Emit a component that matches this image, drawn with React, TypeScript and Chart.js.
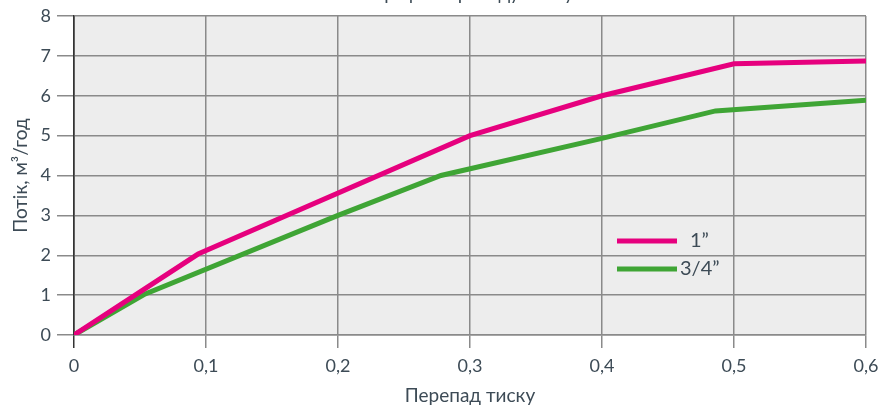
import React, { useEffect, useRef } from "react";
import { Chart, registerables } from "chart.js";

Chart.register(...registerables);

const chartTitle = "Графік перепаду тиску";
const xAxisTitle = "Перепад тиску";
const yAxisTitle = "Потік, м³/год";
const xTickLabels = ["0", "0,1", "0,2", "0,3", "0,4", "0,5", "0,6"];
const yTickLabels = ["0", "1", "2", "3", "4", "5", "6", "7", "8"];

const seriesLabels = ["1”", "3/4”"];
const pressure1 = [0, 0.094, 0.3, 0.4, 0.5, 0.6];
const flow1 = [0, 2.03, 5.0, 6.0, 6.8, 6.87];
const pressure34 = [0, 0.054, 0.2, 0.278, 0.4, 0.486, 0.6];
const flow34 = [0, 1.03, 3.0, 4.0, 4.93, 5.62, 5.89];

const PINK = "#e6007e";
const GREEN = "#3fa535";
const TEXT = "#3d4b56";
const GRID = "#8a8a8a";
const FONT = "Lato, 'Open Sans', sans-serif";

const extrasPlugin = {
  id: "extras",
  beforeDraw(chart: any) {
    const { ctx, chartArea } = chart;
    ctx.save();
    ctx.fillStyle = "#ededed";
    ctx.fillRect(chartArea.left, chartArea.top, chartArea.right - chartArea.left, chartArea.bottom - chartArea.top);
    ctx.restore();
  },
  afterDraw(chart: any) {
    const { ctx } = chart;
    ctx.save();
    ctx.fillStyle = TEXT;
    ctx.font = `19px ${FONT}`;
    ctx.textAlign = "center";
    ctx.textBaseline = "alphabetic";
    ctx.fillText(chartTitle, 475, 0);
    const ds = chart.data.datasets;
    const rows = [
      { y: 241, tx: 690 },
      { y: 269, tx: 680 },
    ];
    ds.forEach((d: any, i: number) => {
      const r = rows[i];
      ctx.strokeStyle = d.borderColor;
      ctx.lineWidth = 5;
      ctx.beginPath();
      ctx.moveTo(617, r.y);
      ctx.lineTo(677, r.y);
      ctx.stroke();
      ctx.fillStyle = TEXT;
      ctx.font = `20px ${FONT}`;
      ctx.textAlign = "left";
      ctx.textBaseline = "middle";
      ctx.fillText(d.label, r.tx, r.y);
    });
    ctx.restore();
  },
};

export default function App() {
  const ref = useRef<HTMLCanvasElement | null>(null);
  useEffect(() => {
    if (!ref.current) return;
    const chart = new Chart(ref.current, {
      type: "line",
      data: {
        datasets: [
          {
            label: seriesLabels[0],
            data: pressure1.map((x, i) => ({ x, y: flow1[i] })),
            borderColor: PINK,
            backgroundColor: PINK,
            borderWidth: 5,
            pointRadius: 0,
            tension: 0,
          },
          {
            label: seriesLabels[1],
            data: pressure34.map((x, i) => ({ x, y: flow34[i] })),
            borderColor: GREEN,
            backgroundColor: GREEN,
            borderWidth: 5,
            pointRadius: 0,
            tension: 0,
          },
        ],
      },
      options: {
        animation: false,
        responsive: false,
        layout: { padding: { top: 16, right: 16, left: 0, bottom: 0 } },
        plugins: { legend: { display: false }, tooltip: { enabled: false }, title: { display: false } },
        scales: {
          x: {
            type: "linear",
            min: 0,
            max: 0.6,
            ticks: {
              stepSize: 0.1,
              padding: 7,
              color: TEXT,
              font: { family: FONT, size: 18 },
              callback: (_v: any, i: number) => xTickLabels[i],
            },
            grid: {
              color: (c: any) => (c.index === 0 ? "#333333" : GRID),
              lineWidth: 1.5,
              tickLength: 13,
            },
            border: { color: GRID, width: 1.5 },
            title: {
              display: true,
              text: xAxisTitle,
              color: TEXT,
              font: { family: FONT, size: 19 },
              padding: { top: 0, bottom: 1 },
            },
            afterFit: (s: any) => {
              s.height = 73;
              s.paddingLeft = 0;
              s.paddingRight = 0;
            },
          },
          y: {
            min: 0,
            max: 8,
            ticks: {
              stepSize: 1,
              padding: 6,
              color: TEXT,
              font: { family: FONT, size: 18 },
              callback: (_v: any, i: number) => yTickLabels[i],
            },
            grid: { color: GRID, lineWidth: 1.5, tickLength: 17 },
            border: { color: "#333333", width: 1.5 },
            title: {
              display: true,
              text: yAxisTitle,
              color: TEXT,
              font: { family: FONT, size: 19 },
              padding: { top: 9, bottom: 0 },
            },
            afterFit: (s: any) => {
              s.width = 74;
              s.paddingTop = 0;
              s.paddingBottom = 0;
            },
          },
        },
      },
      plugins: [extrasPlugin],
    } as any);
    return () => chart.destroy();
  }, []);
  return (
    <div style={{ position: "fixed", left: 0, top: 0, width: 882, height: 408, background: "#fff" }}>
      <canvas ref={ref} width={882} height={408} style={{ width: 882, height: 408 }} />
    </div>
  );
}
